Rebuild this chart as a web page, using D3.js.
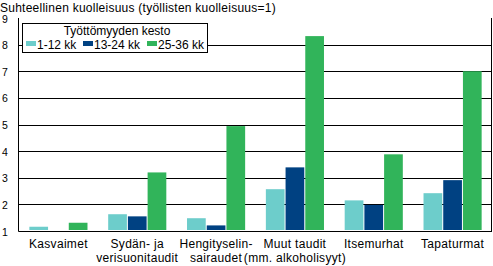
<!DOCTYPE html>
<html>
<head>
<meta charset="utf-8">
<script src="https://cdn.jsdelivr.net/npm/d3@7"></script>
<style>
body { margin: 0; background: #fff; }
svg text { font-family: "Liberation Sans", Arial, sans-serif; fill: #000; }
</style>
</head>
<body>
<svg class="chart" width="493" height="266"></svg>
<script>
var categories = ["Kasvaimet", "Sydän- ja\nverisuonitaudit", "Hengityselin-\nsairaudet", "Muut taudit\n(mm. alkoholisyyt)", "Itsemurhat", "Tapaturmat"];
var seriesNames = ["1-12 kk", "13-24 kk", "25-36 kk"];
var short = [1.16, 1.63, 1.48, 2.57, 2.15, 2.42];
var mid = [1.0, 1.55, 1.21, 3.39, 1.98, 2.91];
var long = [1.31, 3.2, 4.94, 8.32, 3.88, 7.0];
var yTicks = [1, 2, 3, 4, 5, 6, 7, 8, 9];
var colors = ["#6dcdcb", "#004182", "#31b45a"];

var svg = d3.select("svg.chart");
var plotL = 19, plotR = 492, plotT = 18, plotB = 231;

var x0 = d3.scaleBand().domain(d3.range(categories.length)).range([plotL, plotR]);
var x1 = d3.scaleBand().domain(d3.range(3))
    .range([x0.bandwidth() * 0.125, x0.bandwidth() * 0.875]);
var y = d3.scaleLinear().domain([1, 9]).range([plotB, plotT]);

var data = categories.map(function(c, i) { return [short[i], mid[i], long[i]]; });

// gridlines (no line at the top value)
svg.append("g")
    .selectAll("line")
    .data(yTicks.slice(1, -1))
    .enter().append("line")
    .attr("x1", plotL).attr("x2", plotR)
    .attr("y1", function(d) { return Math.round(y(d)) + 0.5; })
    .attr("y2", function(d) { return Math.round(y(d)) + 0.5; })
    .attr("stroke", "#000");

// bars
svg.append("g")
    .selectAll("g")
    .data(data)
    .enter().append("g")
    .attr("transform", function(d, i) { return "translate(" + x0(i) + ",0)"; })
    .selectAll("rect")
    .data(function(d) { return d; })
    .enter().append("rect")
    .attr("x", function(d, j) { return x1(j) + 0.5; })
    .attr("width", x1.bandwidth() - 1)
    .attr("y", function(d) { return y(d); })
    .attr("height", function(d) { return Math.max(0, y(1) - y(d) - 1); })
    .attr("fill", function(d, j) { return colors[j]; });

// axis frame
svg.append("line").attr("x1", plotL - 0.5).attr("x2", plotL - 0.5)
    .attr("y1", plotT).attr("y2", plotB + 0.5).attr("stroke", "#000");
svg.append("line").attr("x1", plotR - 0.5).attr("x2", plotR - 0.5)
    .attr("y1", plotT).attr("y2", plotB + 0.5).attr("stroke", "#000");
svg.append("line").attr("x1", plotL - 0.5).attr("x2", plotR)
    .attr("y1", plotB + 0.5).attr("y2", plotB + 0.5).attr("stroke", "#000");

// y tick labels
svg.append("g")
    .selectAll("text")
    .data(yTicks)
    .enter().append("text")
    .attr("x", 2)
    .attr("y", function(d) { return y(d) + 4.5; })
    .attr("font-size", 10.5)
    .text(function(d) { return d; });

// x labels
svg.append("g")
    .selectAll("text")
    .data(categories)
    .enter().append("text")
    .attr("text-anchor", "middle")
    .attr("x", function(d, i) { return x0(i) + x0.bandwidth() / 2; })
    .attr("y", 248)
    .attr("font-size", 12)
    .attr("letter-spacing", 0.3)
    .selectAll("tspan")
    .data(function(d) { return d.split("\n"); })
    .enter().append("tspan")
    .attr("x", function() { return d3.select(this.parentNode).attr("x"); })
    .attr("dy", function(d, i) { return i ? 14 : 0; })
    .text(function(d) { return d; });

// title
svg.append("text").attr("x", 0).attr("y", 12).attr("font-size", 12)
    .attr("letter-spacing", 0.25)
    .text("Suhteellinen kuolleisuus (työllisten kuolleisuus=1)");

// legend
var lg = svg.append("g");
lg.append("rect").attr("x", 22.5).attr("y", 23.5).attr("width", 185).attr("height", 29)
    .attr("fill", "#fff").attr("stroke", "#000");
lg.append("text").attr("x", 117).attr("y", 35).attr("text-anchor", "middle")
    .attr("font-size", 12).text("Työttömyyden kesto");
var itemX = [26, 83, 147];
var items = lg.selectAll("g.item").data(seriesNames).enter().append("g")
    .attr("transform", function(d, i) { return "translate(" + itemX[i] + ",0)"; });
items.append("rect").attr("x", 0).attr("y", 41).attr("width", 10).attr("height", 5)
    .attr("fill", function(d, i) { return colors[i]; });
items.append("text").attr("x", 11).attr("y", 49).attr("font-size", 12)
    .text(function(d) { return d; });
</script>
</body>
</html>
